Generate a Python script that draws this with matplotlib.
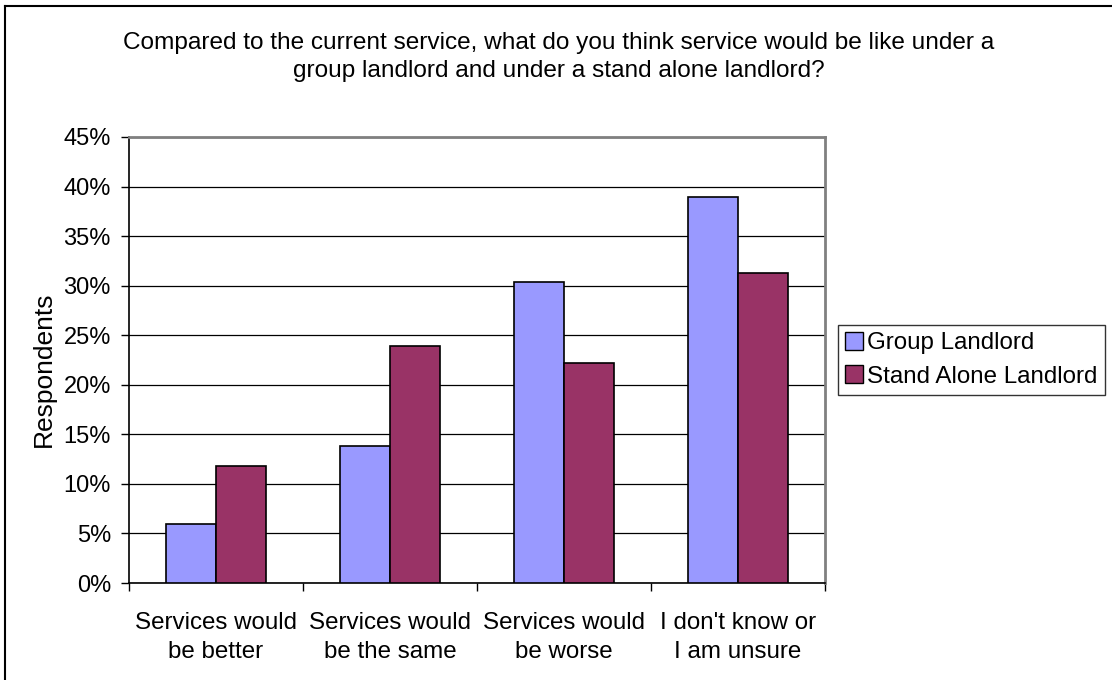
import matplotlib.pyplot as plt
import numpy as np
from matplotlib import ticker
from matplotlib.lines import Line2D

categories = ['Services would\nbe better', 'Services would\nbe the same',
              'Services would\nbe worse', "I don't know or\nI am unsure"]
group_landlord = [6.0, 13.8, 30.4, 38.9]
stand_alone = [11.8, 23.9, 22.2, 31.3]
series_names = ['Group Landlord', 'Stand Alone Landlord']
colors = ['#9999FF', '#993366']

plt.rcParams['font.family'] = ['Liberation Sans', 'DejaVu Sans']

fig = plt.figure(figsize=(11.12, 6.8), dpi=100)
ax = fig.add_axes([0.116, 0.1426, 0.626, 0.656])

x = np.arange(len(categories))
w = 1 / 3.5
for i, (vals, name) in enumerate(zip([group_landlord, stand_alone], series_names)):
    ax.bar(x + (i - 0.5) * w, vals, w, color=colors[i], edgecolor='black',
           linewidth=1.2, label=name, zorder=3)

ax.set_xlim(-0.5, len(categories) - 0.5)
ax.set_ylim(0, 45)
ax.yaxis.set_major_locator(ticker.MultipleLocator(5))
ax.yaxis.set_major_formatter(ticker.FuncFormatter(lambda v, p: '%d%%' % v))
ax.grid(axis='y', color='black', linewidth=0.9, zorder=0)

# ticks sit on the category boundaries, labels in the middle
ax.xaxis.set_major_locator(ticker.FixedLocator(np.arange(len(categories) + 1) - 0.5))
ax.xaxis.set_major_formatter(ticker.NullFormatter())
ax.xaxis.set_minor_locator(ticker.FixedLocator(x))
ax.xaxis.set_minor_formatter(ticker.FixedFormatter(categories))
ax.tick_params(axis='x', which='minor', length=0, pad=21, labelsize=17.4)
ax.tick_params(axis='x', which='major', length=6, width=1, direction='out')
ax.tick_params(axis='y', length=6, width=1, direction='out', labelsize=17, pad=7)
for lbl in ax.xaxis.get_minorticklabels():
    lbl.set_linespacing(1.4)

for s in ['left', 'bottom']:
    ax.spines[s].set_color('black')
    ax.spines[s].set_linewidth(1.2)
for s in ['top', 'right']:
    ax.spines[s].set_color('#808080')
    ax.spines[s].set_linewidth(2)
ax.set_axisbelow(True)

fig.text(44 / 1112, 1 - 369 / 680, 'Respondents', rotation=90, fontsize=19,
         ha='center', va='center')

fig.text(559 / 1112, 1 - 57 / 680,
         'Compared to the current service, what do you think service would be like under a\n'
         'group landlord and under a stand alone landlord?',
         ha='center', va='center', fontsize=17.6, linespacing=1.4)

handles = [plt.Rectangle((0, 0), 1, 1, facecolor=c, edgecolor='black', linewidth=1)
           for c in colors]
leg = fig.legend(handles, series_names, loc='upper left',
                 bbox_to_anchor=(838 / 1112, 1 - 325 / 680), fontsize=17.4,
                 frameon=True, fancybox=False, edgecolor='black',
                 handlelength=0.74, handleheight=0.74, handletextpad=0.17,
                 borderpad=0.3, labelspacing=0.45, borderaxespad=0)
leg.get_frame().set_linewidth(1)

# outer chart border (only top and left are visible in the original)
fig.add_artist(Line2D([5 / 1112, 5 / 1112], [0, 1 - 6 / 680], color='black', linewidth=1.5))
fig.add_artist(Line2D([5 / 1112, 1], [1 - 6 / 680, 1 - 6 / 680], color='black', linewidth=1.5))

fig.savefig('out.png', dpi=100)
